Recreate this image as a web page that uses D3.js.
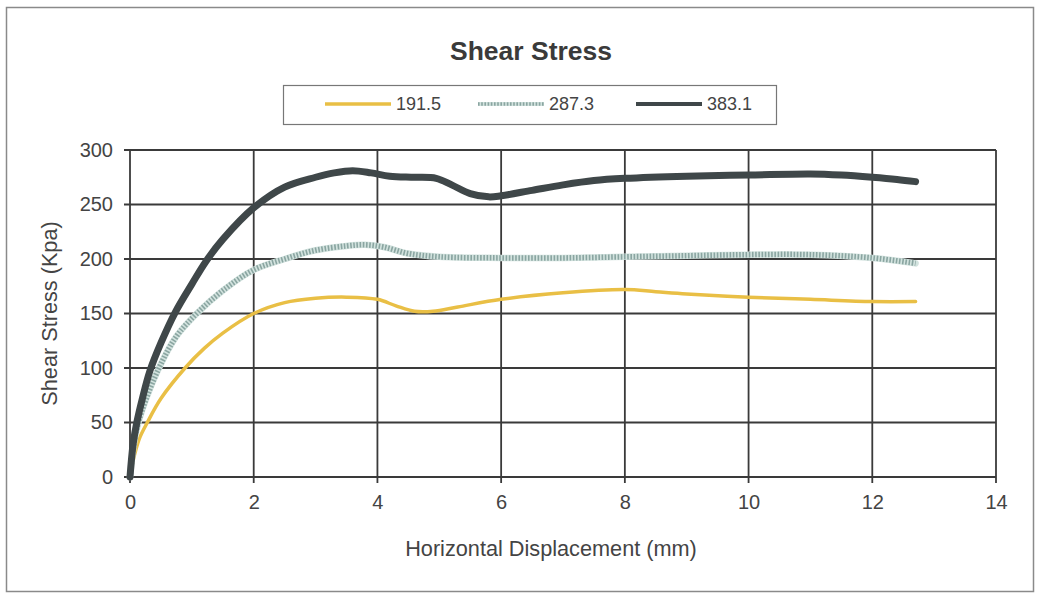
<!DOCTYPE html>
<html>
<head>
<meta charset="utf-8">
<script src="https://cdn.jsdelivr.net/npm/d3@7"></script>
<style>
  body { margin: 0; background: #ffffff; }
  svg { display: block; font-family: "Liberation Sans", Arial, sans-serif; }
</style>
</head>
<body>
<svg id="chart" width="1037" height="595"></svg>
<script>
// Normal stress levels (kPa) for each test
const seriesNames = ["191.5", "287.3", "383.1"];

// Horizontal displacement (mm) / shear stress (kPa) readings
const disp191 = [0, 0.05, 0.15, 0.28, 0.5, 0.89, 1.2, 1.5, 2.0, 2.5, 3.0, 3.5, 4.0, 4.3, 4.6, 4.9, 5.3, 6.0, 7.0, 8.0, 8.5, 9.0, 10.0, 11.0, 12.0, 12.7];
const stress191 = [0, 15, 35, 50, 72, 100, 118, 132, 150, 160, 164, 165, 163, 157, 152, 152, 156, 163, 169, 172, 170, 168, 165, 163, 161, 161];

const disp287 = [0, 0.05, 0.1, 0.2, 0.46, 0.75, 1.08, 1.5, 2.0, 2.5, 3.0, 3.5, 3.8, 4.1, 4.5, 5.0, 6.0, 7.0, 8.0, 9.0, 10.0, 11.0, 12.0, 12.7];
const stress287 = [0, 25, 42, 62, 99, 129, 150, 171, 190, 200, 208, 212, 213, 211, 205, 202, 201, 201, 202, 203, 204, 204, 201, 196];

const disp383 = [0, 0.05, 0.11, 0.2, 0.32, 0.5, 0.74, 1.0, 1.23, 1.5, 2.0, 2.5, 3.0, 3.3, 3.6, 3.9, 4.2, 4.6, 4.95, 5.2, 5.5, 5.8, 6.0, 6.5, 7.0, 7.5, 8.0, 9.0, 10.0, 11.0, 11.5, 12.0, 12.4, 12.7];
const stress383 = [0, 30, 50, 72, 97, 123, 152, 177, 198, 218, 247, 266, 275, 279, 281, 279, 276, 275, 274, 268, 260, 257, 258, 263, 268, 272, 274, 276, 277, 278, 277, 275, 273, 271];

const xTicks = [0, 2, 4, 6, 8, 10, 12, 14];
const yTicks = [0, 50, 100, 150, 200, 250, 300];

const svg = d3.select("#chart");
const W = 1037, H = 595;
const plot = { left: 130, right: 996, top: 150, bottom: 477 };

// Outer chart frame
svg.append("rect")
  .attr("x", 6.5).attr("y", 7.5)
  .attr("width", W - 10).attr("height", H - 11)
  .attr("fill", "#ffffff").attr("stroke", "#8a8a8a").attr("stroke-width", 1.5);

const x = d3.scaleLinear().domain([0, 14]).range([plot.left, plot.right]);
const y = d3.scaleLinear().domain([0, 300]).range([plot.bottom, plot.top]);

// Grid lines
const grid = svg.append("g");
grid.selectAll("line.h").data(yTicks).join("line")
  .attr("x1", plot.left - 6).attr("x2", plot.right)
  .attr("y1", d => y(d)).attr("y2", d => y(d))
  .attr("stroke", "#3a3a3a").attr("stroke-width", 1.8);
grid.selectAll("line.v").data(xTicks).join("line")
  .attr("x1", d => x(d)).attr("x2", d => x(d))
  .attr("y1", plot.top).attr("y2", plot.bottom + 6)
  .attr("stroke", "#3a3a3a").attr("stroke-width", 1.8);

// Axes (labels only; the grid draws the rules)
const xAxis = svg.append("g")
  .attr("transform", `translate(0,${plot.bottom})`)
  .call(d3.axisBottom(x).tickValues(xTicks).tickSize(0).tickPadding(18));
const yAxis = svg.append("g")
  .attr("transform", `translate(${plot.left},0)`)
  .call(d3.axisLeft(y).tickValues(yTicks).tickSize(0).tickPadding(17));
[xAxis, yAxis].forEach(a => {
  a.select(".domain").remove();
  a.selectAll("text").attr("font-size", 20).attr("fill", "#444")
    .attr("font-family", "'Liberation Sans', Arial, sans-serif");
});

// Curves
const line = d3.line().x(d => x(d[0])).y(d => y(d[1])).curve(d3.curveCatmullRom.alpha(0.5));
const pts = (xs, ys) => xs.map((v, i) => [v, ys[i]]);

svg.append("path").datum(pts(disp191, stress191))
  .attr("d", line).attr("fill", "none")
  .attr("stroke", "#e9bf45").attr("stroke-width", 3.5).attr("stroke-linecap", "round");

const p287 = pts(disp287, stress287);
svg.append("path").datum(p287)
  .attr("d", line).attr("fill", "none")
  .attr("stroke", "#d3e3df").attr("stroke-width", 6.5).attr("stroke-linecap", "round");
svg.append("path").datum(p287)
  .attr("d", line).attr("fill", "none")
  .attr("stroke", "#8aa5a1").attr("stroke-width", 5.5).attr("stroke-dasharray", "1.6,1.6");

svg.append("path").datum(pts(disp383, stress383))
  .attr("d", line).attr("fill", "none")
  .attr("stroke", "#3f4749").attr("stroke-width", 7).attr("stroke-linecap", "round")
  .attr("stroke-linejoin", "round");

// Title
svg.append("text")
  .attr("x", 531).attr("y", 60).attr("text-anchor", "middle")
  .attr("font-size", 26.5).attr("font-weight", "bold").attr("fill", "#3a3a3a")
  .text("Shear Stress");

// Axis titles
svg.append("text")
  .attr("x", 551).attr("y", 556).attr("text-anchor", "middle")
  .attr("font-size", 21.7).attr("fill", "#444")
  .text("Horizontal Displacement (mm)");
svg.append("text")
  .attr("transform", `translate(57,${(plot.top + plot.bottom) / 2}) rotate(-90)`)
  .attr("text-anchor", "middle")
  .attr("font-size", 21.7).attr("fill", "#444")
  .text("Shear Stress (Kpa)");

// Legend
const legend = svg.append("g");
legend.append("rect")
  .attr("x", 283.5).attr("y", 85.5).attr("width", 493).attr("height", 39)
  .attr("fill", "#fff").attr("stroke", "#777").attr("stroke-width", 1.2);

const legendX = [325, 478, 636];
const ly = 104;
// 191.5
legend.append("line").attr("x1", legendX[0]).attr("x2", legendX[0] + 66)
  .attr("y1", ly).attr("y2", ly).attr("stroke", "#e9bf45").attr("stroke-width", 3.5);
// 287.3
legend.append("line").attr("x1", legendX[1]).attr("x2", legendX[1] + 66)
  .attr("y1", ly).attr("y2", ly).attr("stroke", "#d3e3df").attr("stroke-width", 4);
legend.append("line").attr("x1", legendX[1]).attr("x2", legendX[1] + 66)
  .attr("y1", ly).attr("y2", ly).attr("stroke", "#8aa5a1").attr("stroke-width", 3.5)
  .attr("stroke-dasharray", "1.6,1.6");
// 383.1
legend.append("line").attr("x1", legendX[2]).attr("x2", legendX[2] + 66)
  .attr("y1", ly).attr("y2", ly).attr("stroke", "#3f4749").attr("stroke-width", 4);

legend.selectAll("text.lab").data(seriesNames).join("text")
  .attr("x", (d, i) => legendX[i] + 71).attr("y", ly + 6)
  .attr("font-size", 18).attr("fill", "#444")
  .text(d => d);
</script>
</body>
</html>
